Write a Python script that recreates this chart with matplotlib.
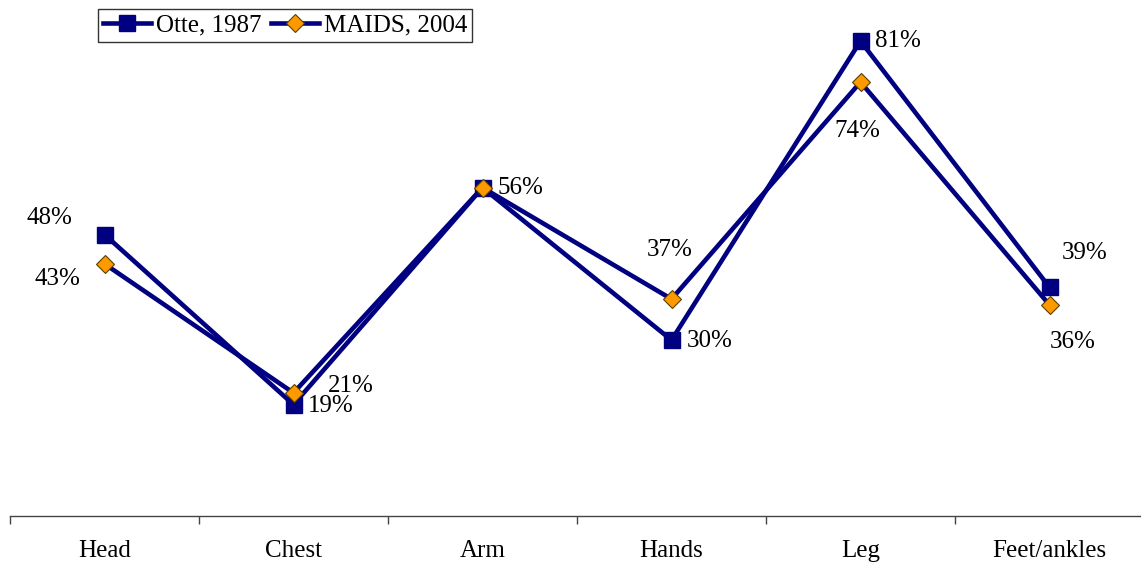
import numpy as np
import matplotlib
matplotlib.use("Agg")
import matplotlib.pyplot as plt

plt.rcParams['font.family'] = ['Liberation Serif', 'DejaVu Serif']

body_regions = ['Head', 'Chest', 'Arm', 'Hands', 'Leg', 'Feet/ankles']
otte_1987 = [48, 19, 56, 30, 81, 39]
maids_2004 = [43, 21, 56, 37, 74, 36]

# label offsets in pixels (dx, dy) from each marker
otte_offsets = [(-55, 17), (37, -1), None, (38, -1), (37, 0), (35, 34)]
maids_offsets = [(-47, -15), (57, 7), (38, 0), (-2, 49), (-3, -49), (23, -37)]

navy = '#000080'
orange = '#FF9900'
fs = 18

fig = plt.figure(figsize=(11.41, 5.64), dpi=100)
ax = fig.add_axes([10 / 1141, 1 - 516 / 564, 1134 / 1141, 516 / 564])

x = np.arange(len(body_regions))
ax.plot(x, otte_1987, color=navy, lw=3.3, marker='s', ms=11,
        mfc=navy, mec=navy, label='Otte, 1987', zorder=3)
ax.plot(x, maids_2004, color=navy, lw=3.3, marker='D', ms=9.5,
        mfc=orange, mec='#5a4000', mew=0.8, label='MAIDS, 2004', zorder=4)

for series, offsets in ((otte_1987, otte_offsets), (maids_2004, maids_offsets)):
    for xi, val, off in zip(x, series, offsets):
        if off is None:
            continue
        ax.annotate(f'{val}%', (xi, val), xytext=off, textcoords='offset pixels',
                    ha='center', va='center', fontsize=fs, color='black')

ax.set_xlim(-0.5, 5.5)
ax.set_ylim(0, 88)
ax.set_yticks([])
for side in ('left', 'right', 'top'):
    ax.spines[side].set_visible(False)
ax.spines['bottom'].set_color('#444444')
ax.spines['bottom'].set_linewidth(1)

ax.set_xticks(x)
ax.set_xticklabels(body_regions, fontsize=fs)
ax.tick_params(axis='x', length=0, pad=17)
ax.set_xticks(np.arange(-0.5, 5.5, 1), minor=True)
ax.tick_params(axis='x', which='minor', length=6, width=1, color='#444444', direction='out')

leg = ax.legend(loc='upper left', bbox_to_anchor=(98 / 1141, 1 - 9 / 564),
                bbox_transform=fig.transFigure, ncol=2, fontsize=fs,
                frameon=True, fancybox=False, borderpad=0.2, handlelength=1.9,
                handletextpad=0.2, columnspacing=0.4, borderaxespad=0)
leg.get_frame().set_edgecolor('black')
leg.get_frame().set_linewidth(1)

fig.savefig('out.png', dpi=100)
